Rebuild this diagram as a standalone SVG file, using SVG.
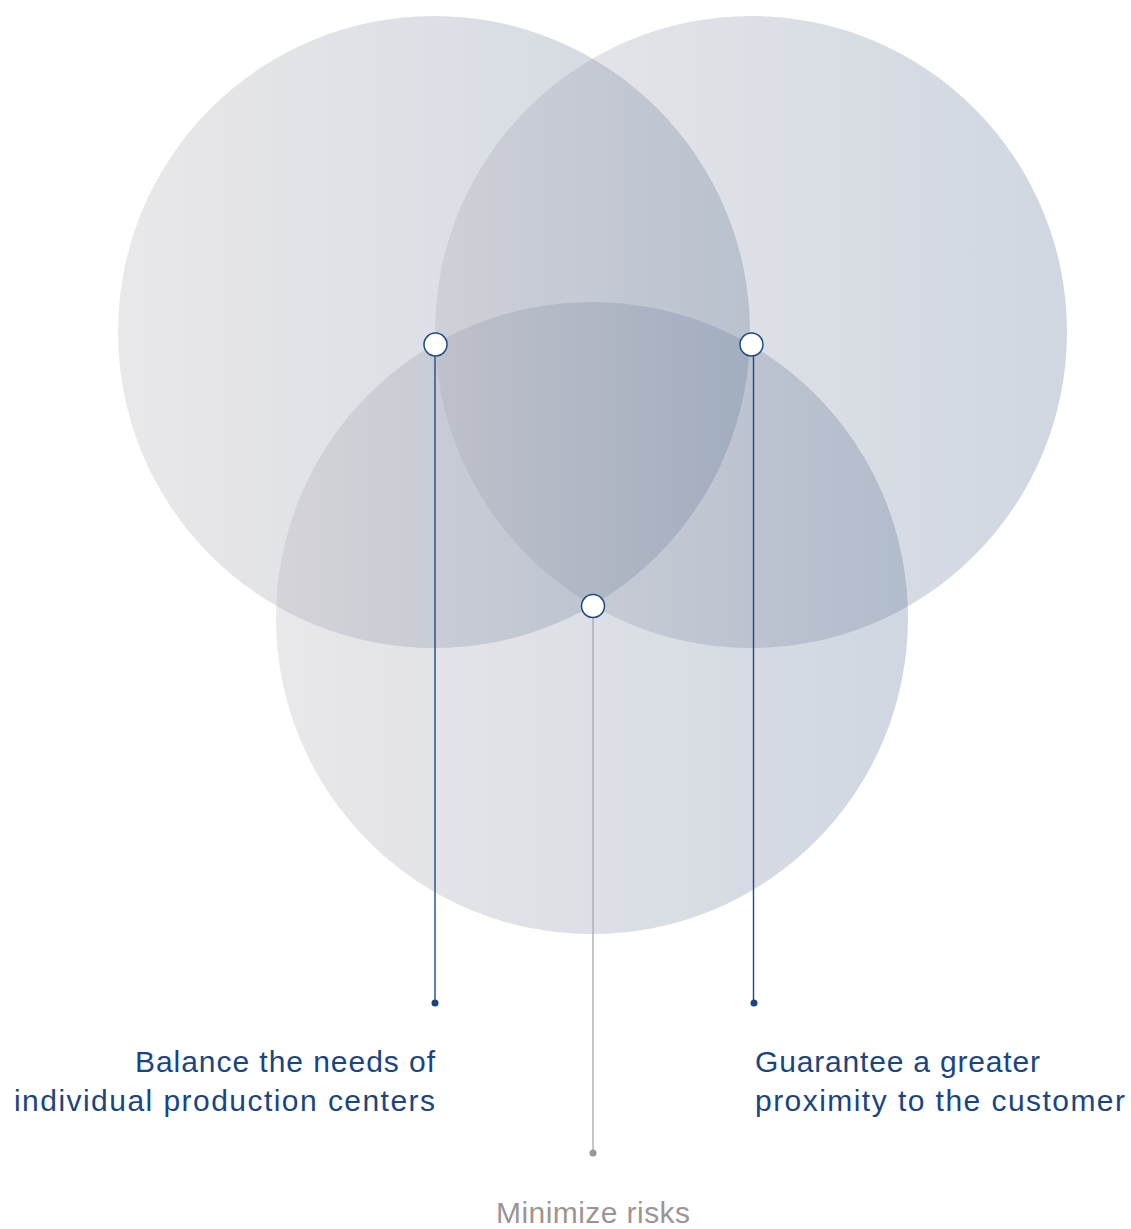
<svg xmlns="http://www.w3.org/2000/svg" width="1131" height="1229" viewBox="0 0 1131 1229">
<defs>
<linearGradient id="g" x1="0" y1="0" x2="1" y2="0">
<stop offset="0" stop-color="#a7a3ab" stop-opacity="0.25"/>
<stop offset="1" stop-color="#435f87" stop-opacity="0.25"/>
</linearGradient>
<style>
.c{fill:url(#g)}
.blue{stroke:#1d4a85;stroke-width:1.4;fill:none}
.grey{stroke:#b3adad;stroke-width:1.4;fill:none}
.hb{fill:#fff;stroke:#1d4a85;stroke-width:1.5}
.t{font-family:"Liberation Sans",Arial,sans-serif;font-size:30px}
.tb{fill:#1a4580}
.tg{fill:#9d9595}
</style>
</defs>
<rect width="1131" height="1229" fill="#fff"/>
<g id="circles">
<circle id="circle-left" class="c" cx="434" cy="332" r="316"/>
<circle id="circle-right" class="c" cx="751" cy="332" r="316"/>
<circle id="circle-bottom" class="c" cx="592" cy="618" r="316"/>
</g>
<g id="connectors">
<line class="blue" x1="435" y1="356" x2="435" y2="1003"/>
<line class="blue" x1="753.5" y1="356" x2="753.5" y2="1003"/>
<line class="grey" x1="593" y1="617" x2="593" y2="1153"/>
<circle cx="435" cy="1003" r="3.5" fill="#1a4580"/>
<circle cx="754" cy="1003" r="3.5" fill="#1a4580"/>
<circle cx="593" cy="1153" r="3.5" fill="#9d9595"/>
</g>
<g id="node-balance">
<circle class="hb" cx="435.5" cy="344.5" r="11.5"/>
<text class="t tb" x="435" y="1072" text-anchor="end" textLength="300" lengthAdjust="spacing">Balance the needs of</text>
<text class="t tb" x="435" y="1111" text-anchor="end" textLength="421" lengthAdjust="spacing">individual production centers</text>
</g>
<g id="node-guarantee">
<circle class="hb" cx="751.5" cy="344.5" r="11.5"/>
<text class="t tb" x="755" y="1072" textLength="285" lengthAdjust="spacing">Guarantee a greater</text>
<text class="t tb" x="755" y="1111" textLength="370" lengthAdjust="spacing">proximity to the customer</text>
</g>
<g id="node-minimize">
<circle class="hb" cx="593" cy="606" r="11.5"/>
<text class="t tg" x="593" y="1223" text-anchor="middle" textLength="194" lengthAdjust="spacing">Minimize risks</text>
</g>
</svg>
